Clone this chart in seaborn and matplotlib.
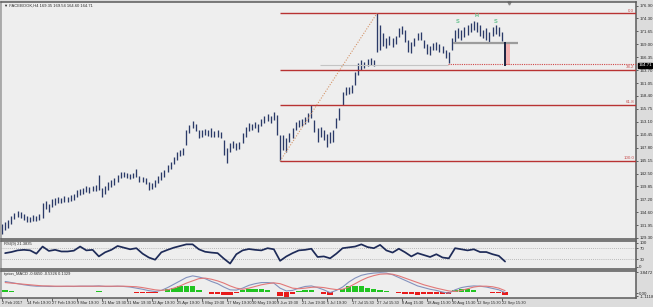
import numpy as np
import pandas as pd
import matplotlib
matplotlib.use("Agg")
import matplotlib.pyplot as plt
import matplotlib.transforms as mtransforms
from matplotlib.patches import Rectangle
import seaborn as sns

# ---------------- data ----------------
bar_high = [132.2, 132.6, 133.0, 133.8, 134.4, 134.8, 134.6, 134.2, 133.8, 133.6,
            134.0, 133.8, 134.2, 136.5, 136.9, 136.3, 137.3, 137.5, 137.7, 137.5,
            137.9, 137.7, 138.1, 138.3, 139.1, 139.3, 139.5, 139.9, 139.7, 139.9,
            140.2, 142.2, 139.5, 139.9, 140.8, 141.2, 141.6, 142.2, 142.8, 142.8,
            142.6, 142.4, 142.6, 143.4, 142.0, 141.8, 141.6, 140.8, 140.6, 141.2,
            142.0, 142.8, 143.2, 144.3, 144.9, 145.9, 146.9, 147.3, 147.7, 151.4,
            152.5, 153.3, 152.7, 151.4, 151.4, 151.6, 151.4, 151.8, 151.2, 151.4,
            151.0, 149.4, 147.7, 148.8, 149.2, 148.8, 149.0, 150.8, 152.0, 152.9,
            152.7, 153.1, 152.7, 153.7, 154.3, 154.7, 154.3, 155.1, 154.5, 150.4,
            150.4, 149.8, 150.8, 151.8, 153.1, 153.5, 153.7, 154.1, 154.9, 156.5,
            153.5, 151.8, 152.0, 151.4, 150.6, 151.0, 151.4, 153.9, 156.0, 159.2,
            160.2, 160.2, 160.7, 163.3, 165.2, 165.8, 165.4, 166.0, 166.2, 165.8,
            175.34, 172.9, 171.3, 170.3, 170.7, 170.3, 170.7, 172.3, 172.7, 171.9,
            169.9, 169.5, 170.3, 171.3, 171.5, 169.9, 169.1, 168.6, 169.3, 169.5,
            169.1, 168.6, 167.8, 167.4, 170.3, 171.9, 172.3, 171.9, 172.5, 172.9,
            173.4, 173.8, 173.6, 172.9, 171.9, 172.3, 171.5, 172.5, 172.9, 172.5,
            171.5, 169.54]
bar_low = [130.1, 130.9, 131.3, 132.2, 133.2, 133.6, 133.4, 133.0, 132.6, 132.6,
           132.8, 132.8, 133.0, 133.4, 135.2, 134.6, 135.6, 136.1, 136.5, 136.5,
           136.7, 136.7, 136.9, 137.1, 137.7, 138.1, 138.3, 138.7, 138.5, 138.9,
           138.9, 139.1, 137.7, 138.3, 139.1, 139.7, 140.2, 140.8, 141.6, 141.8,
           141.6, 141.4, 141.6, 141.8, 140.8, 140.8, 140.4, 139.1, 139.3, 139.7,
           140.6, 141.2, 141.8, 142.8, 143.4, 144.5, 145.3, 146.1, 146.3, 148.4,
           150.8, 151.8, 151.2, 149.8, 150.0, 150.4, 150.2, 150.0, 150.0, 150.0,
           149.8, 146.3, 144.7, 146.9, 147.7, 147.3, 147.5, 148.8, 150.0, 151.2,
           151.4, 151.8, 151.0, 152.3, 152.9, 153.3, 152.9, 153.5, 150.4, 145.1,
           147.3, 146.9, 148.9, 149.8, 151.4, 152.1, 152.3, 152.7, 153.1, 153.9,
           151.0, 149.0, 150.0, 149.4, 147.9, 148.8, 149.0, 151.8, 153.5, 156.6,
           158.6, 158.8, 159.0, 160.7, 162.7, 163.7, 164.1, 164.5, 164.8, 164.5,
           167.4, 167.8, 168.6, 168.2, 168.8, 168.4, 169.1, 170.5, 171.1, 169.5,
           167.4, 167.2, 168.6, 169.9, 169.9, 168.2, 167.0, 166.8, 167.8, 167.8,
           167.4, 167.2, 166.2, 165.2, 167.8, 169.5, 170.3, 169.9, 170.5, 170.9,
           171.5, 171.9, 171.5, 170.7, 170.3, 169.9, 169.5, 170.7, 171.1, 170.7,
           169.7, 164.60]

date_labels = ["2 Feb 2017", "14 Feb 19:30", "27 Feb 19:30", "9 Mar 19:30",
               "21 Mar 19:30", "31 Mar 19:30", "12 Apr 19:30", "25 Apr 19:30",
               "5 May 19:30", "17 May 19:30", "30 May 19:30", "9 Jun 19:30",
               "21 Jun 19:30", "5 Jul 19:30", "17 Jul 15:30", "27 Jul 15:30",
               "8 Aug 15:30", "18 Aug 15:30", "30 Aug 15:30", "12 Sep 15:30",
               "22 Sep 15:30"]
price_ticks = [176.90, 174.30, 171.65, 169.00, 166.35, 163.70, 161.05, 158.40,
               155.75, 153.10, 150.45, 147.80, 145.15, 142.50, 139.85, 137.20,
               134.60, 131.95, 129.30]

fib_levels = [0.0, 38.2, 61.8, 100.0]
fib_labels = ["0.0", "38.2", "61.8", "100.0"]
fib_top = 175.34
fib_bottom = 145.10
fib_start_bar = 89
fib_end_bar = 120
neckline = 169.32
support = 165.0
last_price = 164.71
shs_labels = ["S", "H", "S"]
shs_bars = [145.9, 152.0, 158.0]
shs_prices = [173.6, 174.8, 173.6]

rsi_values = [52, 56, 62, 64, 62, 50, 76, 60, 64, 58,
              58, 61, 76, 62, 64, 40, 55, 64, 78, 72,
              66, 70, 50, 36, 28, 55, 64, 72, 78, 84,
              84, 66, 57, 54, 52, 32, 14, 48, 62, 67,
              64, 62, 70, 66, 24, 40, 52, 62, 64, 68,
              38, 40, 33, 50, 70, 73, 76, 84, 74, 70,
              82, 62, 54, 68, 55, 40, 52, 45, 38, 48,
              36, 33, 70, 66, 62, 66, 56, 56, 48, 42,
              21.4]
macd_main = [1.8, 1.6, 1.4, 1.2, 1.05, 0.95, 0.95, 0.9, 0.9, 0.9,
             0.92, 0.9, 0.95, 0.95, 0.95, 1.0, 0.9, 0.9, 0.95, 0.9,
             0.8, 0.6, 0.4, 0.15, 0.0, 0.2, 0.7, 1.3, 1.9, 2.5,
             2.8, 2.6, 2.3, 1.8, 1.4, 0.8, 0.3, 0.25, 0.6, 1.1,
             1.4, 1.6, 1.6, 1.5, 0.6, 0.1, 0.2, 0.6, 0.9, 1.0,
             0.7, 0.3, -0.2, 0.2, 0.8, 1.7, 2.4, 2.9, 3.15, 3.3,
             3.37, 3.3, 3.0, 2.5, 2.0, 1.5, 1.0, 0.7, 0.4, 0.2,
             -0.1, -0.3, 0.3, 0.7, 0.9, 1.0, 0.95, 0.8, 0.55, 0.3,
             -0.2]
macd_signal = [1.6, 1.5, 1.4, 1.3, 1.2, 1.1, 1.0, 1.0, 0.95, 0.95,
               0.95, 0.95, 0.95, 0.95, 0.95, 0.95, 0.95, 0.95, 0.95, 0.95,
               0.9, 0.85, 0.7, 0.5, 0.3, 0.2, 0.3, 0.6, 1.0, 1.5,
               1.9, 2.3, 2.4, 2.2, 1.9, 1.5, 1.0, 0.6, 0.4, 0.6,
               0.9, 1.2, 1.4, 1.55, 1.4, 1.0, 0.6, 0.5, 0.6, 0.75,
               0.8, 0.7, 0.5, 0.35, 0.4, 0.8, 1.4, 2.0, 2.5, 2.85,
               3.1, 3.15, 3.1, 2.8, 2.4, 2.0, 1.6, 1.2, 0.9, 0.6,
               0.35, 0.1, 0.0, 0.2, 0.5, 0.8, 0.95, 0.95, 0.85, 0.6,
               0.15]
macd_hist = [0.2, 0.1, 0.0, -0.1, -0.15, -0.15, -0.05, -0.1, -0.05, -0.05,
             -0.03, -0.05, 0.0, 0.0, 0.0, 0.05, -0.05, -0.05, 0.0, -0.05,
             -0.1, -0.25, -0.3, -0.35, -0.3, 0.0, 0.4, 0.7, 0.9, 1.0,
             0.9, 0.3, -0.1, -0.4, -0.5, -0.7, -0.7, -0.35, 0.2, 0.5,
             0.5, 0.4, 0.2, -0.05, -0.8, -0.9, -0.4, 0.1, 0.3, 0.25,
             -0.1, -0.4, -0.7, -0.15, 0.4, 0.9, 1.0, 0.9, 0.65, 0.45,
             0.27, 0.15, -0.1, -0.3, -0.4, -0.5, -0.6, -0.5, -0.5, -0.4,
             -0.45, -0.4, 0.3, 0.5, 0.4, 0.2, 0.0, -0.15, -0.3, -0.3,
             -0.6]

title_text = "\u25bc FACEBOOK,H4 169.35 169.54 164.60 164.71"
rsi_title = "RSI(9) 21.3835"
macd_title = "tyrion_MACD -0.6650 -0.5326 0.1329"
rsi_tick_labels = ["100", "70", "30", "0"]
macd_tick_labels = ["3.8472", "0.00", "-1.1118"]

# ---------------- styling ----------------
sns.set_theme(style="white")
plt.rcParams['font.family'] = ['Liberation Sans Narrow', 'Liberation Sans', 'DejaVu Sans']

BG = "#eeeeee"
FRAME = "#5a5a5a"
BAR_COL = "#2b3a68"
FIB_COL = "#b83232"
TXT = "#2a2a2a"
FS = 3.2

W, H = 653, 307
fig = plt.figure(figsize=(W / 100, H / 100), dpi=100, facecolor="#dcdcdc")


def px_axes(left, top, right, bottom):
    return fig.add_axes([left / W, 1 - bottom / H, (right - left) / W, (bottom - top) / H])


ax = px_axes(1, 2, 636, 239)
ax_rsi = px_axes(1, 240.5, 636, 268.5)
ax_macd = px_axes(1, 270.5, 636, 297.7)

XLIM = (-0.32, 202.9)
for a in (ax, ax_rsi, ax_macd):
    a.set_facecolor(BG)
    a.set_xlim(*XLIM)
    for s in a.spines.values():
        s.set_color(FRAME)
        s.set_linewidth(1.1)
    a.spines['left'].set_color("#9a9a9a")
    a.yaxis.tick_right()
    a.tick_params(axis='y', labelsize=FS, length=1.6, width=0.5, pad=0.8,
                  colors=TXT, direction='out')

# ---------------- main price panel ----------------
idx = np.arange(len(bar_high))
ax.set_ylim(129.09, 177.66)
ax.vlines(idx[:-1], bar_low[:-1], bar_high[:-1], color=BAR_COL, lw=0.95)

# fibonacci
for lvl, lab in zip(fib_levels, fib_labels):
    p = fib_top - (fib_top - fib_bottom) * lvl / 100.0
    ax.hlines(p, fib_start_bar, XLIM[1], color=FIB_COL, lw=1.0, zorder=3)
    ax.text(XLIM[1] - 0.6, p + 0.12, lab, color="#c85050", fontsize=3.2,
            ha='right', va='bottom', zorder=4)
ax.plot([fib_start_bar, fib_end_bar], [fib_bottom, fib_top], color="#d4956a",
        lw=0.8, ls=(0, (1, 1.4)), zorder=3)

# pattern lines
ax.hlines(last_price, 101.8, 142.7, color="#c4c4c4", lw=0.8, zorder=2)
ax.hlines(support, 142.7, XLIM[1], color="#d04848", lw=0.8, ls=(0, (1, 1)), zorder=3)
ax.hlines(neckline, 144.3, 165.1, color="#9c9c9c", lw=1.6, zorder=3)
ax.add_patch(Rectangle((160.9, last_price), 1.8, neckline - last_price,
                       facecolor="#f4b3b3", edgecolor="none", zorder=2))
ax.vlines(idx[-1:], bar_low[-1:], bar_high[-1:], color="#1b2340", lw=1.4, zorder=4)
for lab, bx, py in zip(shs_labels, shs_bars, shs_prices):
    ax.text(bx, py, lab, color="#62c08c", fontsize=4.0, ha='center', va='center',
            fontweight='bold')
ax.plot([162.3], [177.45], marker='v', ms=2.2, color="#8a8a8a", clip_on=False)

ax.set_xticks([])
ax.set_yticks(price_ticks)
ax.set_yticklabels([f"{v:.2f}" for v in price_ticks])
ax.text(0.004, 0.993, title_text, transform=ax.transAxes, fontsize=3.0,
        color=TXT, ha='left', va='top')
blend = mtransforms.blended_transform_factory(ax.transAxes, ax.transData)
ax.text(1.0035, last_price, f"{last_price:.2f}", transform=blend, fontsize=FS,
        color="white", ha='left', va='center',
        bbox=dict(boxstyle='square,pad=0.12', facecolor='black', edgecolor='black'))

# ---------------- RSI panel ----------------
ind_idx = np.arange(1, len(bar_high), 2)
ax_rsi.set_ylim(-4, 98)
ax_rsi.hlines([70, 30], *XLIM, color="#a8a8a8", lw=0.6, ls=(0, (1, 1.5)))
sns.lineplot(x=ind_idx, y=rsi_values, ax=ax_rsi, color="#1e2b58", lw=1.25)
ax_rsi.set_xticks([])
ax_rsi.set_yticks([90, 70, 30, 3])
ax_rsi.set_yticklabels(rsi_tick_labels)
ax_rsi.text(0.004, 0.93, rsi_title, transform=ax_rsi.transAxes, fontsize=3.0,
            color=TXT, ha='left', va='top')

# ---------------- MACD panel ----------------
ax_macd.set_ylim(-1.11, 3.76)
hist_cols = ["#21c421" if v >= 0 else "#e81a1a" for v in macd_hist]
ax_macd.bar(ind_idx, macd_hist, width=1.7, color=hist_cols, edgecolor='none')
sns.lineplot(x=ind_idx, y=macd_main, ax=ax_macd, color="#8492bd", lw=0.8)
sns.lineplot(x=ind_idx, y=macd_signal, ax=ax_macd, color="#e27878", lw=0.8)
ax_macd.set_yticks([3.45, -0.3, -0.85])
ax_macd.set_yticklabels(macd_tick_labels)
ax_macd.text(0.004, 0.93, macd_title, transform=ax_macd.transAxes, fontsize=2.9,
             color=TXT, ha='left', va='top')

ax_macd.set_xticks([8 * k for k in range(len(date_labels))])
ax_macd.set_xticklabels(date_labels, ha='left')
ax_macd.tick_params(axis='x', labelsize=2.9, length=1.8, width=0.5, pad=0.8,
                    colors=TXT, direction='out', bottom=True)

fig.savefig("out.png", dpi=100, facecolor=fig.get_facecolor())
